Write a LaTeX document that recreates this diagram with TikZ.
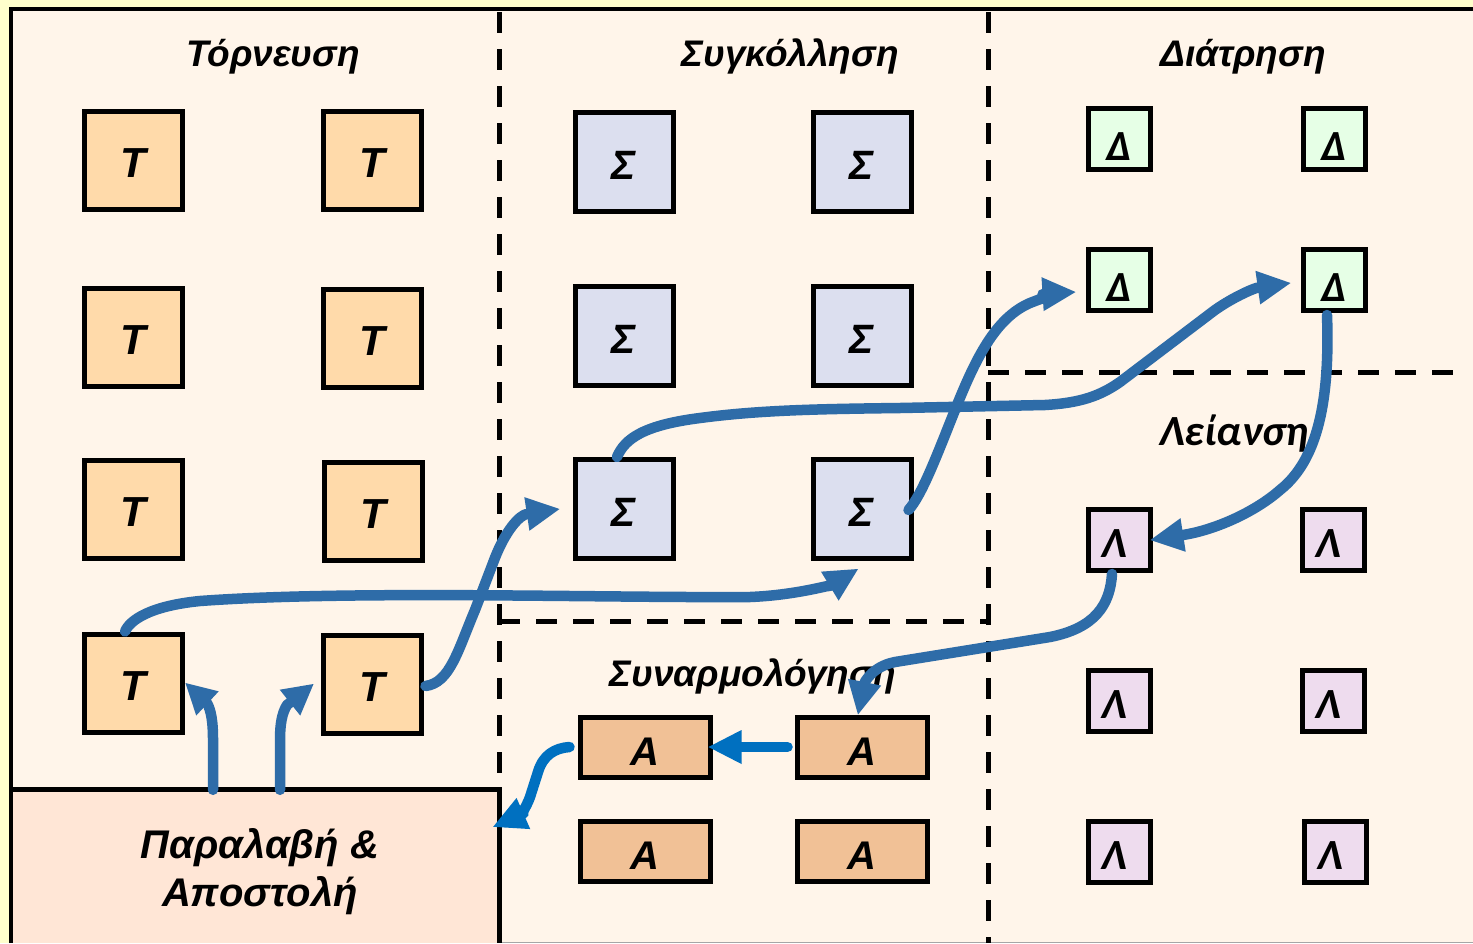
\documentclass[tikz,border=0pt]{standalone}
\usepackage{fontspec}
\setmainfont{Liberation Sans}
\newfontfamily\calfont{Carlito}
\usetikzlibrary{arrows.meta}
\definecolor{outerY}{HTML}{FFFFCC}
\definecolor{bgL}{HTML}{FFF5EA}
\definecolor{tF}{HTML}{FFDAAA}
\definecolor{sF}{HTML}{DCDFEF}
\definecolor{dF}{HTML}{E6FFE6}
\definecolor{lF}{HTML}{EEDCEE}
\definecolor{aF}{HTML}{F1C196}
\definecolor{paF}{HTML}{FFE6D6}
\definecolor{flowC}{HTML}{2E6CA8}
\definecolor{flowB}{HTML}{0070C0}
\newcommand\lowerby[2]{\raisebox{-#1}[\height][\depth]{#2}}
\begin{document}
\begin{tikzpicture}[x=1pt,y=-1pt,
  box/.style={draw=black,line width=5pt,inner sep=0pt,font=\bfseries\itshape\fontsize{42}{42}\selectfont},
  tbox/.style={box,fill=tF,minimum width=98pt,minimum height=98pt},
  sbox/.style={box,fill=sF,minimum width=98pt,minimum height=99pt,font=\bfseries\itshape\fontsize{41}{41}\selectfont},
  dbox/.style={box,fill=dF,minimum width=62pt,minimum height=61pt,font=\calfont\bfseries\itshape\fontsize{43}{43}\selectfont},
  lbox/.style={box,fill=lF,minimum width=62pt,minimum height=61pt,font=\calfont\bfseries\itshape\fontsize{43}{43}\selectfont},
  abox/.style={box,fill=aF,minimum width=130pt,minimum height=60pt,font=\bfseries\itshape\fontsize{40}{40}\selectfont},
  title/.style={anchor=base,inner sep=0pt,font=\bfseries\itshape\fontsize{37}{37}\selectfont},
  divider/.style={line width=5pt,dash pattern=on 21pt off 16pt},
  flow/.style={draw=flowC,line width=10.5pt,line cap=round,line join=round,
    -{Triangle[length=33pt,width=34pt,line width=0pt]}},
  flowshort/.style={flow,-{Triangle[length=30pt,width=33pt,line width=0pt]}},
  flowb/.style={flow,draw=flowB},
]
\useasboundingbox (0,0) rectangle (1473,943);
\fill[outerY] (0,0) rectangle (1473,943);
\fill[bgL] (11,9) rectangle (1473,943);
\draw[gray!70,line width=1pt] (11,942.5) -- (1473,942.5);

% dividers
\draw[divider] (499,12) -- (499,790);
\draw[divider] (988,12) -- (988,943);
\draw[divider] (499,621) -- (988,621);
\draw[divider] (988,372) -- (1465,372);

% receiving & shipping
\node[fill=paF,minimum width=488pt,minimum height=153pt,inner sep=0pt,align=center,
  font=\bfseries\itshape\fontsize{40}{48}\selectfont] (pa) at (255,866.5)
  {\hspace*{10pt}\lowerby{5pt}{Παραλαβή \&}\\ \hspace*{10pt}\lowerby{5pt}{Αποστολή}};
\draw[line width=5pt] (pa.north west) -- (pa.north east) -- (pa.south east);

% frame
\draw[line width=4.5pt] (11,943) -- (11,9) -- (1473,9);

% titles
\node[title] (tt) at (273,66) {Τόρνευση};
\node[title] (ts) at (790,66) {Συγκόλληση};
\node[title] (td) at (1243,66) {Διάτρηση};
\node[title,font=\calfont\bfseries\itshape\fontsize{43}{43}\selectfont] (tl) at (1234,445) {Λείανση};
\node[title] (ta) at (753,686) {Συναρμολόγηση};

% T boxes
\node[tbox] (t11) at (133,160) {\lowerby{3pt}{T}};
\node[tbox] (t12) at (372,160) {\lowerby{3pt}{T}};
\node[tbox] (t21) at (133,337) {\lowerby{3pt}{T}};
\node[tbox] (t22) at (372,338) {\lowerby{3pt}{T}};
\node[tbox] (t31) at (133,509) {\lowerby{3pt}{T}};
\node[tbox] (t32) at (373,511) {\lowerby{3pt}{T}};
\node[tbox] (t41) at (133,683) {\lowerby{3pt}{T}};
\node[tbox] (t42) at (372,684) {\lowerby{3pt}{T}};

% Sigma boxes
\node[sbox] (s11) at (624,162) {\lowerby{3pt}{Σ}};
\node[sbox] (s12) at (862,162) {\lowerby{3pt}{Σ}};
\node[sbox] (s21) at (624,336) {\lowerby{3pt}{Σ}};
\node[sbox] (s22) at (862,336) {\lowerby{3pt}{Σ}};
\node[sbox] (s31) at (624,509) {\lowerby{3pt}{Σ}};
\node[sbox] (s32) at (862,509) {\lowerby{3pt}{Σ}};

% Delta boxes
\node[dbox] (d11) at (1119,139) {\lowerby{8pt}{Δ}};
\node[dbox] (d12) at (1334,139) {\lowerby{8pt}{Δ}};
\node[dbox] (d21) at (1119,280) {\lowerby{8pt}{Δ}};
\node[dbox] (d22) at (1334,280) {\lowerby{8pt}{Δ}};

% Lambda boxes
\node[lbox] (l11) at (1119,540) {\hspace*{-10pt}\lowerby{4pt}{Λ}};
\node[lbox] (l12) at (1333,540) {\hspace*{-10pt}\lowerby{4pt}{Λ}};
\node[lbox] (l21) at (1119,701) {\hspace*{-10pt}\lowerby{4pt}{Λ}};
\node[lbox] (l22) at (1333,701) {\hspace*{-10pt}\lowerby{4pt}{Λ}};
\node[lbox] (l31) at (1119,852) {\hspace*{-10pt}\lowerby{4pt}{Λ}};
\node[lbox] (l32) at (1335,852) {\hspace*{-10pt}\lowerby{4pt}{Λ}};

% A boxes
\node[abox] (a11) at (645,747) {\lowerby{5pt}{A}};
\node[abox] (a12) at (862,747) {\lowerby{5pt}{A}};
\node[abox] (a21) at (645,851) {\lowerby{5pt}{A}};
\node[abox] (a22) at (862,851) {\lowerby{5pt}{A}};

% flows
\draw[flow] ([xshift=-8pt]t41.north) .. controls (130,620) and (150,606) .. (200,601)
  .. controls (350,590) and (600,598) .. (750,597)
  .. controls (800,595) and (835,583) .. ([xshift=-4pt,yshift=-8pt]s32.south);
\draw[flow] ([xshift=2pt,yshift=-2pt]t42.east) .. controls (450,683) and (458,650) .. (475,610)
  -- (493,563) .. controls (505,530) and (520,515) .. ([xshift=-13pt]s31.west);
\draw[flowshort] ([xshift=-42pt]pa.north) -- (213,738) .. controls (213,722) and (211,710) .. (207,703)
  -- ([xshift=1pt]t41.east);
\draw[flowshort] ([xshift=25pt]pa.north) -- (280,740) .. controls (280,724) and (282,713) .. (287,705)
  -- ([xshift=-7pt]t42.west);
\draw[flow] ([xshift=-7pt]s31.north) .. controls (625,438) and (645,425) .. (700,418)
  .. controls (760,410) and (820,409) .. (900,408) -- (1045,405)
  .. controls (1080,403) and (1100,396) .. (1120,382) -- (1215,310)
  .. controls (1235,296) and (1255,288) .. ([xshift=-10pt,yshift=-3pt]d22.west);
\draw[flow] ([xshift=-5pt,yshift=-1pt]s32.east) .. controls (922,495) and (937,455) .. (955,410)
  .. controls (975,360) and (995,318) .. (1030,303)
  .. controls (1045,297) and (1060,293) .. ([xshift=-10pt,yshift=-12pt]d21.west);
\draw[flow] ([xshift=-7pt,yshift=-2pt]d22.south) .. controls (1330,400) and (1318,460) .. (1280,490)
  .. controls (1255,512) and (1215,530) .. ([xshift=-2pt]l11.east);
\draw[flow] ([xshift=-7pt,yshift=-1pt]l11.south) .. controls (1110,605) and (1095,628) .. (1050,637)
  -- (895,662) .. controls (870,667) and (864,685) .. ([xshift=-4pt]a12.north);
\draw[flowb] ([xshift=-7pt]a12.west) -- ([xshift=-4pt]a11.east);
\draw[flowb] ([xshift=-8pt]a11.west) .. controls (555,748) and (543,755) .. (538,772)
  -- (530,797) .. controls (526,808) and (520,815) .. ([shift={(-6pt,-37pt)}]pa.north east);
\end{tikzpicture}
\end{document}
